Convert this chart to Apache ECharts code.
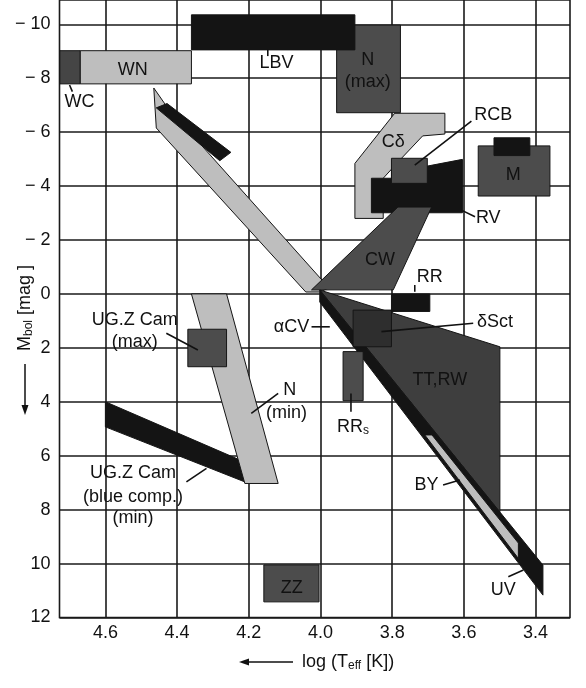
<!DOCTYPE html>
<html><head><meta charset="utf-8">
<script src="https://cdn.jsdelivr.net/npm/echarts@6/dist/echarts.min.js"></script>
<style>html,body{margin:0;padding:0;background:#fff}#c{width:586px;height:688px}</style>
</head><body><div id="c"></div>
<script>
// ---- axis ticks ----
const xTicks = [4.6, 4.4, 4.2, 4.0, 3.8, 3.6, 3.4];
const yTicks = [-10, -8, -6, -4, -2, 0, 2, 4, 6, 8, 10, 12];

// ---- regions: [log Teff, Mbol] vertices ----
const WC = [[4.727,-9.02],[4.67,-9.02],[4.67,-7.79],[4.727,-7.79]];
const WN = [[4.67,-9.02],[4.36,-9.02],[4.36,-7.79],[4.67,-7.79]];
const NMAX = [[3.955,-9.97],[3.777,-9.97],[3.777,-6.72],[3.955,-6.72]];
const LBV = [[4.36,-10.35],[3.904,-10.35],[3.904,-9.05],[4.36,-9.05]];
const CDELTA = [[3.793,-6.70],[3.653,-6.70],[3.653,-5.93],[3.715,-5.86],[3.774,-5.03],[3.825,-4.29],[3.825,-2.80],[3.904,-2.80],[3.904,-4.84]];
const RV = [[3.858,-4.29],[3.802,-4.29],[3.802,-4.60],[3.702,-4.74],[3.604,-4.99],[3.604,-3.01],[3.858,-3.01]];
const RCB = [[3.802,-5.03],[3.702,-5.03],[3.702,-4.10],[3.802,-4.10]];
const M = [[3.56,-5.49],[3.36,-5.49],[3.36,-3.63],[3.56,-3.63]];
const MTOP = [[3.516,-5.79],[3.416,-5.79],[3.416,-5.13],[3.516,-5.13]];
const CW = [[3.784,-3.22],[3.690,-3.22],[3.797,-0.15],[4.025,-0.15]];
const BAND = [[4.465,-7.637],[4.430,-6.970],[3.976,-0.219],[4.002,-0.071],[4.041,-0.071],[4.458,-6.154]];
const BANDDARK = [[4.458,-6.90],[4.428,-7.06],[4.250,-5.25],[4.281,-4.94]];
const TTRW = [[4.002,-0.145],[3.4996,1.96],[3.4996,8.09]];
const STRIP = [[4.002,-0.145],[3.3795,10.056],[3.3795,11.17],[4.002,0.30]];
const BY = [[3.709,5.23],[3.689,5.23],[3.448,9.24],[3.448,9.81]];
const DSCT = [[3.909,0.60],[3.802,0.60],[3.802,1.96],[3.909,1.96]];
const RR = [[3.802,0.0],[3.695,0.0],[3.695,0.65],[3.802,0.65]];
const RRS = [[3.937,2.14],[3.881,2.14],[3.881,3.96],[3.937,3.96]];
const UGBLUE = [[4.6,4.0],[4.2,6.3],[4.2,7.03],[4.6,4.93]];
const NMIN = [[4.36,0],[4.262,0],[4.118,7.03],[4.211,7.03]];
const UGMAX = [[4.37,1.31],[4.262,1.31],[4.262,2.70],[4.37,2.70]];
const ZZ = [[4.158,10.05],[4.004,10.05],[4.004,11.42],[4.158,11.42]];

// ---- labels ----
const labelTexts = ['WN','WC','LBV','N','(max)','C\u03b4','RCB','RV','M','CW','RR','\u03b1CV','\u03b4Sct','TT,RW','{n|RR}{s|s}','N','(min)','UG.Z Cam','(max)','UG.Z Cam','(blue comp.)','(min)','ZZ','BY','UV'];
const labelPos = [[4.524,-8.30],[4.672,-7.13],[4.123,-8.55],[3.868,-8.68],[3.868,-7.86],[3.797,-5.65],[3.518,-6.64],[3.532,-2.80],[3.462,-4.41],[3.834,-1.26],[3.695,-0.64],[4.081,1.22],[3.513,1.03],[3.667,3.19],[3.909,4.93],[4.086,3.56],[4.095,4.43],[4.518,0.97],[4.518,1.77],[4.523,6.65],[4.523,7.52],[4.523,8.32],[4.08,10.91],[3.704,7.09],[3.490,10.98]];
// leader lines [x1,y1,x2,y2]
const leaders = [[4.700,-7.75,4.692,-7.50],[4.147,-9.05,4.147,-8.82],[3.579,-6.41,3.737,-4.78],[3.604,-3.09,3.569,-2.86],[3.737,-0.33,3.737,-0.08],[4.025,1.22,3.974,1.22],[3.574,1.09,3.830,1.40],[3.915,3.69,3.915,4.37],[4.118,3.69,4.193,4.43],[4.430,1.46,4.342,2.08],[4.374,6.97,4.318,6.47],[3.658,7.09,3.611,6.90],[3.476,10.49,3.434,10.24]];

const FONT = '"Liberation Sans", Arial, sans-serif';
const DARK = '#4c4c4c', LIGHT = '#bebebe', BLACK = '#141414';

function poly(pts, fill) {
  return {
    type: 'custom', coordinateSystem: 'cartesian2d', silent: true, animation: false,
    data: [pts[0]],
    renderItem: function (params, api) {
      return {type: 'polygon', shape: {points: pts.map(p => api.coord(p))},
        style: {fill: fill, stroke: '#151515', lineWidth: 1}};
    }
  };
}

const shapes = [
  [CDELTA, LIGHT], [NMAX, DARK], [LBV, BLACK], [WC, '#454545'], [WN, LIGHT],
  [BAND, LIGHT], [BANDDARK, BLACK], [RV, BLACK], [RCB, DARK], [M, DARK], [MTOP, BLACK],
  [CW, DARK], [TTRW, '#3e3e3e'], [STRIP, BLACK], [BY, LIGHT], [DSCT, '#2e2e2e'], [RR, BLACK], [RRS, DARK],
  [UGBLUE, BLACK], [NMIN, LIGHT], [UGMAX, DARK], [ZZ, DARK]
];

const series = shapes.map(s => poly(s[0], s[1]));

series.push({
  type: 'custom', coordinateSystem: 'cartesian2d', silent: true, animation: false,
  data: leaders,
  encode: {x: [0, 2], y: [1, 3]},
  renderItem: function (params, api) {
    const a = api.coord([api.value(0), api.value(1)]);
    const b = api.coord([api.value(2), api.value(3)]);
    return {type: 'line', shape: {x1: a[0], y1: a[1], x2: b[0], y2: b[1]},
      style: {stroke: '#111', lineWidth: 1.6}};
  }
});

series.push({
  type: 'custom', coordinateSystem: 'cartesian2d', silent: true, animation: false,
  data: labelPos.map((p, i) => [p[0], p[1], i]),
  renderItem: function (params, api) {
    const c = api.coord([api.value(0), api.value(1)]);
    const t = labelTexts[api.value(2)];
    return {type: 'text', x: c[0], y: c[1], z2: 100,
      style: {text: t, fill: '#111', font: '18px ' + FONT, align: 'center', verticalAlign: 'middle',
        rich: {n: {fontSize: 18, fontFamily: FONT, fill: '#111'}, s: {fontSize: 12, fontFamily: FONT, fill: '#111', verticalAlign: 'bottom', padding: [8, 0, 0, 0]}}}};
  }
});

const chart = echarts.init(document.getElementById('c'), null, {renderer: 'canvas'});
chart.setOption({
  animation: false,
  backgroundColor: '#fff',
  grid: {left: 59.5, right: 16, top: 0, bottom: 70.5, show: true, borderColor: '#1a1a1a', borderWidth: 1.6, containLabel: false},
  xAxis: {
    type: 'value', inverse: true, min: 3.304, max: 4.728,
    axisLine: {show: false},
    axisTick: {show: false, customValues: xTicks},
    axisLabel: {customValues: xTicks, formatter: v => v.toFixed(1), fontFamily: FONT, fontSize: 18, color: '#111', margin: 7},
    splitLine: {show: true, lineStyle: {color: '#1a1a1a', width: 1.6}}
  },
  yAxis: {
    type: 'value', inverse: true, min: -10.9, max: 12,
    axisLine: {show: false},
    axisTick: {show: false, customValues: yTicks},
    axisLabel: {customValues: yTicks, fontFamily: FONT, fontSize: 18, color: '#111', margin: 9,
      formatter: v => v < 0 ? '\u2212 ' + (-v) : String(v)},
    splitLine: {show: true, lineStyle: {color: '#1a1a1a', width: 1.6}}
  },
  graphic: [
    {type: 'text', x: 302, y: 662, style: {text: 'log (T{s|eff} [K])', fill: '#111', font: '18px ' + FONT, align: 'left', verticalAlign: 'middle',
      rich: {s: {fontSize: 12, fontFamily: FONT, fill: '#111', verticalAlign: 'bottom', padding: [8, 0, 0, 0]}}}},
    {type: 'line', shape: {x1: 244, y1: 662, x2: 293, y2: 662}, style: {stroke: '#111', lineWidth: 1.5}},
    {type: 'polygon', shape: {points: [[239, 662], [249, 658.5], [249, 665.5]]}, style: {fill: '#111'}},
    {type: 'text', x: 25, y: 308, rotation: Math.PI / 2, style: {text: 'M{s|bol} [mag ]', fill: '#111', font: '18px ' + FONT, align: 'center', verticalAlign: 'middle',
      rich: {s: {fontSize: 12, fontFamily: FONT, fill: '#111', verticalAlign: 'bottom', padding: [8, 0, 0, 0]}}}},
    {type: 'line', shape: {x1: 25, y1: 364, x2: 25, y2: 409}, style: {stroke: '#111', lineWidth: 1.5}},
    {type: 'polygon', shape: {points: [[25, 415], [21.5, 405], [28.5, 405]]}, style: {fill: '#111'}}
  ],
  series: series
});
</script>
</body></html>
